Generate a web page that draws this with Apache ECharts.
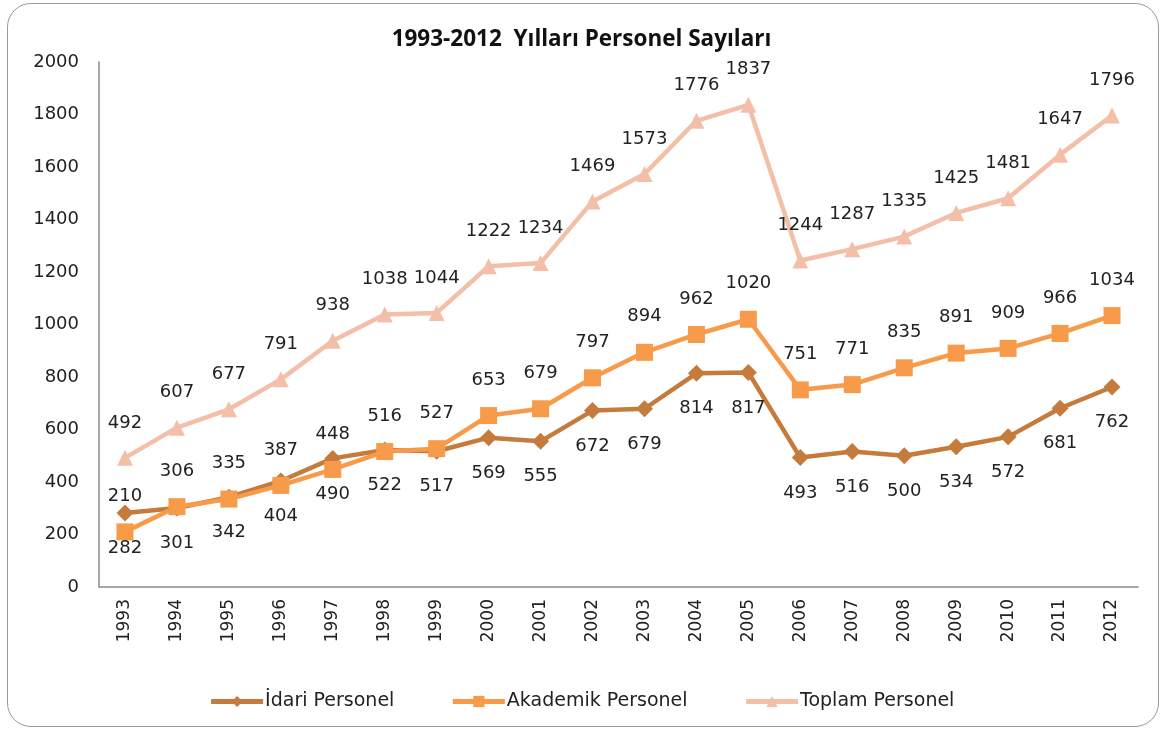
<!DOCTYPE html>
<html><head><meta charset="utf-8">
<script src="https://cdn.jsdelivr.net/npm/echarts@6/dist/echarts.min.js"></script>
<style>
html,body{margin:0;padding:0;background:#fff;}
#frame{position:absolute;left:7px;top:3px;width:1152px;height:724px;border:1.5px solid #9a9a9a;border-radius:24px;box-sizing:border-box;}
#main{position:absolute;left:0;top:0;width:1163px;height:731px;}
</style></head>
<body>
<div id="frame"></div>
<div id="main"></div>
<script>
const years = ['1993','1994','1995','1996','1997','1998','1999','2000','2001','2002','2003','2004','2005','2006','2007','2008','2009','2010','2011','2012'];
const idari = [282,301,342,404,490,522,517,569,555,672,679,814,817,493,516,500,534,572,681,762];
const akademik = [210,306,335,387,448,516,527,653,679,797,894,962,1020,751,771,835,891,909,966,1034];
const toplam = [492,607,677,791,938,1038,1044,1222,1234,1469,1573,1776,1837,1244,1287,1335,1425,1481,1647,1796];
const yTicks = {min:0, max:2000, interval:200};

const chart = echarts.init(document.getElementById('main'), null, {renderer:'canvas'});
const lblFont = {fontFamily:'DejaVu Sans', fontSize:18, color:'#222'};
function mk(name, data, color, symbol, size, pos){
  return {name, type:'line', data, symbol, symbolSize:size,
    lineStyle:{color, width:4.5}, itemStyle:{color},
    label:{show:true, position:pos, distance:18, ...lblFont},
    z: 2};
}
chart.setOption({
  animation:false,
  title:{text:'1993-2012  Yılları Personel Sayıları', left:'center', top:23,
    textStyle:{fontFamily:'Open Sans', fontWeight:'bold', fontSize:22.5, color:'#111'}},
  grid:{left:99, right:25, top:62, bottom:144},
  xAxis:{type:'category', data:years, boundaryGap:true,
    axisLine:{lineStyle:{color:'#8a8a8a', width:1.5}}, axisTick:{show:false},
    axisLabel:{rotate:90, margin:12, fontFamily:'DejaVu Sans', fontSize:17, color:'#222'}},
  yAxis:{type:'value', min:yTicks.min, max:yTicks.max, interval:yTicks.interval,
    splitLine:{show:false}, axisTick:{show:false},
    axisLine:{show:true, lineStyle:{color:'#8a8a8a', width:1.5}},
    axisLabel:{margin:20, fontFamily:'DejaVu Sans', fontSize:18, color:'#222',
      formatter: v => String(v)}},
  legend:{bottom:15, left:'center', itemGap:56, itemWidth:52, itemHeight:14,
    lineStyle:{width:5},
    textStyle:{fontFamily:'DejaVu Sans', fontSize:19, color:'#222', padding:[0,0,0,-3]},
    data:['İdari Personel','Akademik Personel','Toplam Personel']},
  series:[
    mk('İdari Personel', idari, '#c47b3c', 'diamond', 17, 'bottom'),
    mk('Akademik Personel', akademik, '#f79a4a', 'rect', 17, 'top'),
    mk('Toplam Personel', toplam, '#f3bfa8', 'triangle', 16, 'top')
  ]
});
</script>
</body></html>
